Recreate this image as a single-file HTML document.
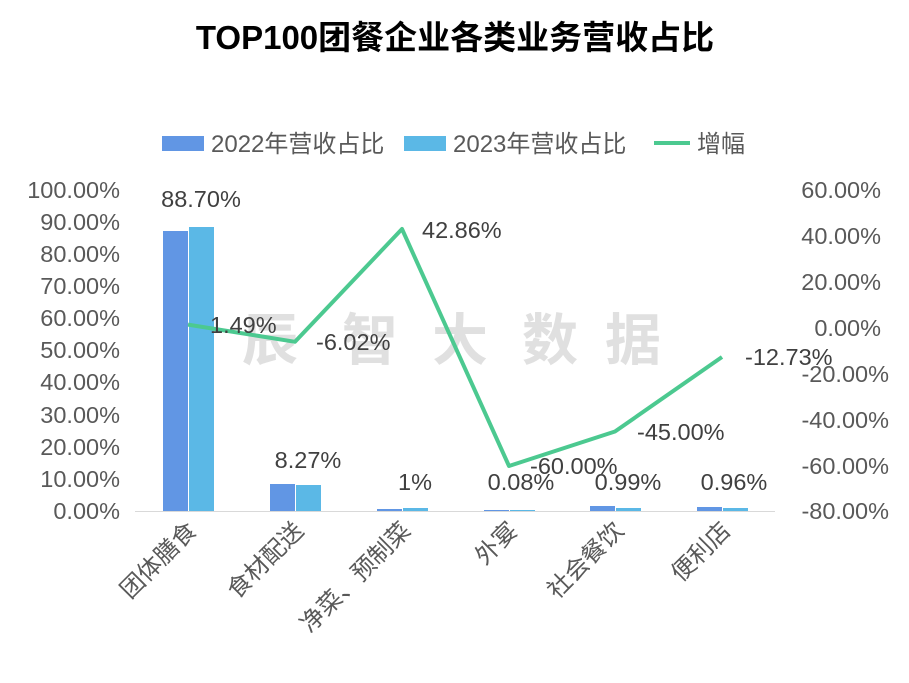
<!DOCTYPE html>
<html><head><meta charset="utf-8"><style>
html,body{margin:0;padding:0;background:#fff;}
svg{display:block;font-family:"Liberation Sans","Noto Sans CJK SC",sans-serif;}
</style></head><body>
<svg width="909" height="683" viewBox="0 0 909 683" xmlns="http://www.w3.org/2000/svg">
<rect width="909" height="683" fill="#fff"/>
<text x="455" y="49" text-anchor="middle" font-size="33" font-weight="bold" fill="#000">TOP100团餐企业各类业务营收占比</text>
<!-- legend -->
<rect x="162" y="136" width="42" height="15" fill="#6196E4"/>
<text x="211" y="152" font-size="24" fill="#595959">2022年营收占比</text>
<rect x="404" y="136" width="42" height="15" fill="#5BB8E6"/>
<text x="453" y="152" font-size="24" fill="#595959">2023年营收占比</text>
<line x1="654" y1="143" x2="690" y2="143" stroke="#4CC990" stroke-width="4"/>
<text x="697" y="152" font-size="24" fill="#595959">增幅</text>
<!-- watermark -->
<g font-size="56" font-weight="bold" fill="#e0e0e0" text-anchor="middle">
<text x="270" y="360">辰</text><text x="370" y="360">智</text><text x="460" y="360">大</text><text x="550" y="360">数</text><text x="633" y="360">据</text>
</g>
<!-- left axis -->
<g font-size="23.5" fill="#595959" text-anchor="end">
<text x="120" y="198">100.00%</text><text x="120" y="230">90.00%</text><text x="120" y="262">80.00%</text>
<text x="120" y="294">70.00%</text><text x="120" y="326">60.00%</text><text x="120" y="358">50.00%</text>
<text x="120" y="390">40.00%</text><text x="120" y="423">30.00%</text><text x="120" y="455">20.00%</text>
<text x="120" y="487">10.00%</text><text x="120" y="519">0.00%</text>
</g>
<g font-size="23.5" fill="#595959" text-anchor="end">
<text x="881" y="198">60.00%</text><text x="881" y="244">40.00%</text><text x="881" y="290">20.00%</text>
<text x="881" y="336">0.00%</text><text x="889" y="382">-20.00%</text><text x="889" y="428">-40.00%</text>
<text x="889" y="474">-60.00%</text><text x="889" y="519">-80.00%</text>
</g>
<line x1="135" y1="511.5" x2="775" y2="511.5" stroke="#d9d9d9" stroke-width="1"/>
<!-- bars -->
<g>
<rect x="163" y="231" width="25" height="280" fill="#6196E4"/><rect x="189" y="227" width="25" height="284" fill="#5BB8E6"/>
<rect x="270" y="484" width="25" height="27" fill="#6196E4"/><rect x="296" y="485" width="25" height="26" fill="#5BB8E6"/>
<rect x="377" y="509" width="25" height="2" fill="#6196E4"/><rect x="403" y="508" width="25" height="3" fill="#5BB8E6"/>
<rect x="484" y="510" width="25" height="1" fill="#6196E4"/><rect x="510" y="510" width="25" height="1" fill="#5BB8E6"/>
<rect x="590" y="506" width="25" height="5" fill="#6196E4"/><rect x="616" y="508" width="25" height="3" fill="#5BB8E6"/>
<rect x="697" y="507" width="25" height="4" fill="#6196E4"/><rect x="723" y="508" width="25" height="3" fill="#5BB8E6"/>
</g>
<polyline points="188,324.6 295,341.8 402,229 509,466 615,431.5 722,357" fill="none" stroke="#4CC990" stroke-width="4" stroke-linejoin="round"/>
<g font-size="23.5" fill="#404040">
<text x="201" y="207" text-anchor="middle">88.70%</text>
<text x="308" y="468" text-anchor="middle">8.27%</text>
<text x="415" y="490" text-anchor="middle">1%</text>
<text x="521" y="490" text-anchor="middle">0.08%</text>
<text x="628" y="490" text-anchor="middle">0.99%</text>
<text x="734" y="490" text-anchor="middle">0.96%</text>
<text x="210" y="333">1.49%</text>
<text x="316" y="350">-6.02%</text>
<text x="422" y="238">42.86%</text>
<text x="530" y="474">-60.00%</text>
<text x="637" y="440">-45.00%</text>
<text x="745" y="365">-12.73%</text>
</g>
<g font-size="24" fill="#595959" text-anchor="end">
<text transform="translate(198,532) rotate(-45)">团体膳食</text>
<text transform="translate(305,532) rotate(-45)">食材配送</text>
<text transform="translate(412,532) rotate(-45)">净菜、预制菜</text>
<text transform="translate(519,532) rotate(-45)">外宴</text>
<text transform="translate(625,532) rotate(-45)">社会餐饮</text>
<text transform="translate(732,532) rotate(-45)">便利店</text>
</g>
</svg>
</body></html>
